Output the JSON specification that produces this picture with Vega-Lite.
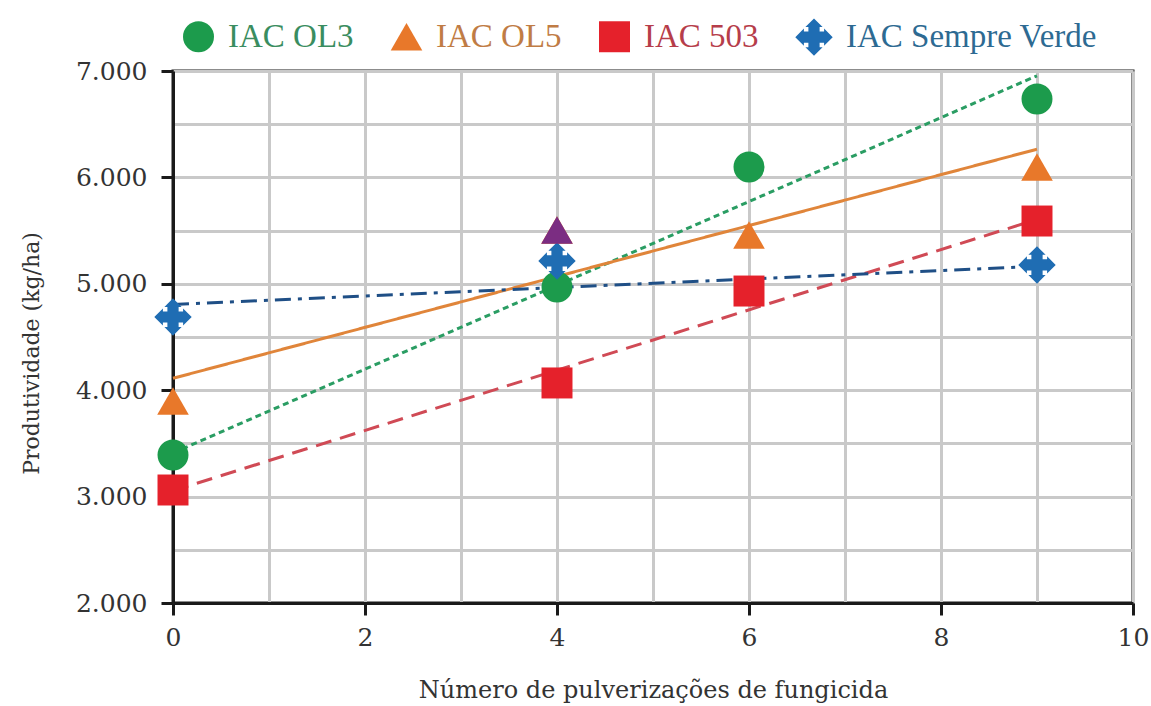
{
  "$schema": "https://vega.github.io/schema/vega-lite/v6.json",
  "width": 960,
  "height": 532,
  "autosize": {"type": "none"},
  "padding": {"left": 173, "top": 71, "right": 18, "bottom": 103},
  "background": "white",
  "config": {
    "view": {"stroke": "#1a1a1a", "strokeWidth": 3},
    "axis": {
      "labelFont": "DejaVu Serif",
      "labelFontSize": 25,
      "labelColor": "#333333",
      "titleFont": "DejaVu Serif",
      "titleFontWeight": "normal",
      "titleColor": "#333333",
      "domainColor": "#1a1a1a",
      "domainWidth": 3,
      "tickColor": "#1a1a1a",
      "tickWidth": 3,
      "tickSize": 12,
      "gridColor": "#c9c9c9",
      "gridWidth": 3
    },
    "legend": {
      "labelFont": "Liberation Serif",
      "labelFontSize": 33,
      "labelLimit": 0,
      "padding": 0,
      "labelOffset": 13,
      "columnPadding": 36,
      "symbolStrokeWidth": 0,
      "symbolOpacity": 1
    }
  },
  "datasets": {
    "pontos": [
      {"serie": "IAC OL3", "x": 0, "y": 3391},
      {"serie": "IAC OL3", "x": 4, "y": 4970},
      {"serie": "IAC OL3", "x": 6, "y": 6098},
      {"serie": "IAC OL3", "x": 9, "y": 6737},
      {"serie": "IAC OL5", "x": 0, "y": 3898},
      {"serie": "IAC OL5", "x": 4, "y": 5506},
      {"serie": "IAC OL5", "x": 6, "y": 5459},
      {"serie": "IAC OL5", "x": 9, "y": 6098},
      {"serie": "IAC 503", "x": 0, "y": 3062},
      {"serie": "IAC 503", "x": 4, "y": 4068},
      {"serie": "IAC 503", "x": 6, "y": 4932},
      {"serie": "IAC 503", "x": 9, "y": 5590},
      {"serie": "IAC Sempre Verde", "x": 0, "y": 4688},
      {"serie": "IAC Sempre Verde", "x": 4, "y": 5215},
      {"serie": "IAC Sempre Verde", "x": 9, "y": 5177}
    ],
    "destaque": [
      {"serie": "IAC OL5", "x": 4, "y": 5506}
    ],
    "tendencias": [
      {"serie": "IAC OL3", "x": 0, "y": 3410},
      {"serie": "IAC OL3", "x": 9, "y": 6955},
      {"serie": "IAC OL5", "x": 0, "y": 4112},
      {"serie": "IAC OL5", "x": 9, "y": 6265},
      {"serie": "IAC 503", "x": 0, "y": 3055},
      {"serie": "IAC 503", "x": 9, "y": 5605},
      {"serie": "IAC Sempre Verde", "x": 0, "y": 4805},
      {"serie": "IAC Sempre Verde", "x": 9, "y": 5165}
    ]
  },
  "encoding": {
    "x": {
      "field": "x",
      "type": "quantitative",
      "scale": {"domain": [0, 10], "nice": false, "zero": false},
      "axis": {
        "title": "Número de pulverizações de fungicida",
        "titleFontSize": 24,
        "titlePadding": 28,
        "values": [0, 1, 2, 3, 4, 5, 6, 7, 8, 9, 10],
        "labelExpr": "datum.value % 2 == 0 ? datum.label : ''",
        "tickOpacity": {"condition": {"test": "datum.value % 2 == 0", "value": 1}, "value": 0},
        "labelPadding": 10,
        "labelFlush": false
      }
    },
    "y": {
      "field": "y",
      "type": "quantitative",
      "scale": {"domain": [2000, 7000], "nice": false, "zero": false},
      "axis": {
        "title": "Produtividade (kg/ha)",
        "titleFontSize": 22,
        "titlePadding": 32,
        "titleY": 282,
        "values": [2000, 2500, 3000, 3500, 4000, 4500, 5000, 5500, 6000, 6500, 7000],
        "labelExpr": "datum.value % 1000 == 0 ? replace(format(datum.value, ','), ',', '.') : ''",
        "tickOpacity": {"condition": {"test": "datum.value % 1000 == 0", "value": 1}, "value": 0},
        "labelPadding": 14,
        "labelFlush": false
      }
    }
  },
  "layer": [
    {
      "data": {"name": "tendencias"},
      "mark": {"type": "line", "strokeWidth": 3},
      "encoding": {
        "detail": {"field": "serie"},
        "stroke": {
          "field": "serie",
          "type": "nominal",
          "scale": {
            "domain": ["IAC Sempre Verde", "IAC 503", "IAC OL5", "IAC OL3"],
            "range": ["#1f4f86", "#d04a55", "#e0853a", "#2a9d63"]
          },
          "legend": null
        },
        "strokeDash": {
          "field": "serie",
          "type": "nominal",
          "scale": {
            "domain": ["IAC Sempre Verde", "IAC 503", "IAC OL5", "IAC OL3"],
            "range": [[16, 7, 4, 7], [16, 9], [1, 0], [6, 4]]
          },
          "legend": null
        }
      }
    },
    {
      "data": {"name": "pontos"},
      "mark": {"type": "point", "filled": true, "opacity": 1, "strokeWidth": 0},
      "encoding": {
        "color": {
          "field": "serie",
          "type": "nominal",
          "title": null,
          "scale": {
            "domain": ["IAC OL3", "IAC OL5", "IAC 503", "IAC Sempre Verde"],
            "range": ["#1c9b4c", "#e8782a", "#e5212b", "#1f6db3"]
          },
          "legend": {
            "orient": "none",
            "direction": "horizontal",
            "legendX": 9,
            "legendY": -53,
            "labelFont": "Liberation Serif",
            "labelFontSize": 33,
            "labelLimit": 0,
            "encode": {
              "labels": {
                "update": {
                  "fill": {"signal": "datum.value === 'IAC OL3' ? '#3a8d60' : datum.value === 'IAC OL5' ? '#c07c45' : datum.value === 'IAC 503' ? '#b63d4a' : '#2d6a92'"},
                  "font": {"value": "Liberation Serif"}
                }
              }
            }
          }
        },
        "shape": {
          "field": "serie",
          "type": "nominal",
          "title": null,
          "scale": {
            "domain": ["IAC OL3", "IAC OL5", "IAC 503", "IAC Sempre Verde"],
            "range": ["circle", "triangle-up", "square", "M0,-1L0.46,-0.54L0.3,-0.54L0.3,-0.3L0.54,-0.3L0.54,-0.46L1,0L0.54,0.46L0.54,0.3L0.3,0.3L0.3,0.54L0.46,0.54L0,1L-0.46,0.54L-0.3,0.54L-0.3,0.3L-0.54,0.3L-0.54,0.46L-1,0L-0.54,-0.46L-0.54,-0.3L-0.3,-0.3L-0.3,-0.54L-0.46,-0.54Z"]
          }
        },
        "size": {
          "field": "serie",
          "type": "nominal",
          "title": null,
          "scale": {
            "type": "ordinal",
            "domain": ["IAC OL3", "IAC OL5", "IAC 503", "IAC Sempre Verde"],
            "range": [960, 1000, 960, 1400]
          }
        }
      }
    },
    {
      "data": {"name": "destaque"},
      "mark": {"type": "point", "filled": true, "opacity": 1, "strokeWidth": 0, "shape": "triangle-up", "size": 1000, "color": "#7b2d82"},
      "encoding": {}
    }
  ]
}
